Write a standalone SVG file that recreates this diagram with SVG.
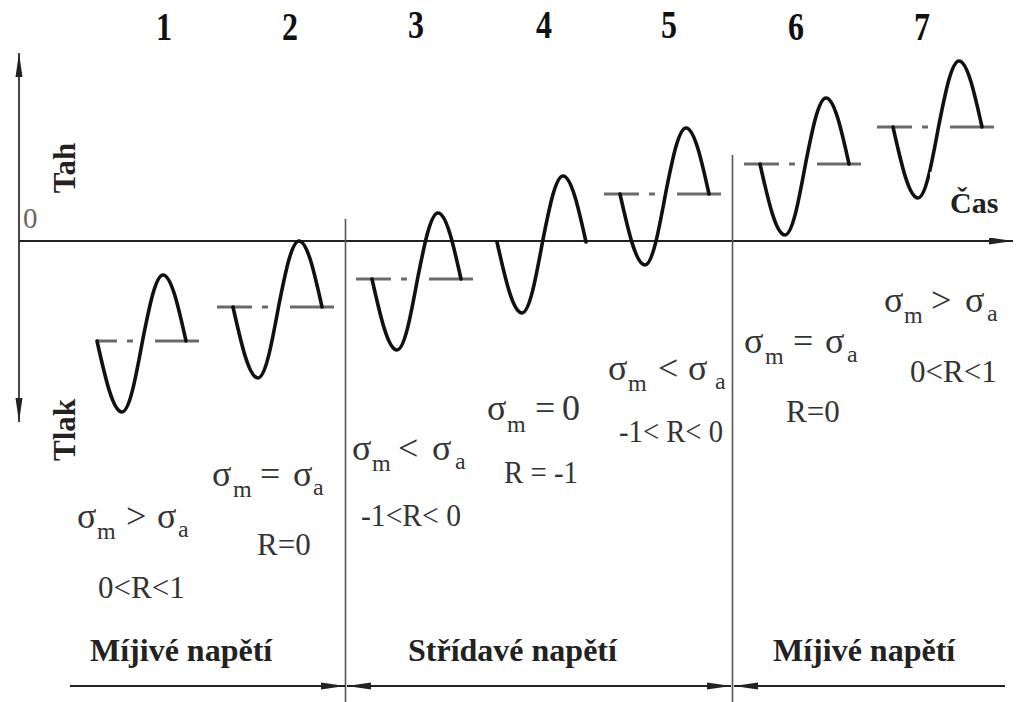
<svg xmlns="http://www.w3.org/2000/svg" width="1017" height="702" viewBox="0 0 1017 702">
<style>
.wave{fill:none;stroke:#111;stroke-width:3.6;stroke-linecap:round}
.mean{fill:none;stroke:#6a6a6a;stroke-width:2.8}
.axis{fill:none;stroke:#222;stroke-width:2}
.div{fill:none;stroke:#555;stroke-width:1.6}
text{font-family:'Liberation Serif','Times New Roman','DejaVu Serif',serif}
.num{font-weight:bold;font-size:40px;fill:#111}
.bold{font-weight:bold;fill:#222}
.lbl{font-size:36px;fill:#333}
.sub{font-size:24px}
.r{font-size:31px;fill:#333}
</style>
<defs>
<path id="w" d="M0,0 c8.15,36.37 15.95,71 25,71 c7.42,0 13.81,-34.63 20.5,-71 c6.69,-33.81 13.08,-66 20.5,-66 c8.32,0 15.5,32.19 23,66"/>
<path id="m" d="M-16,0 h35 M29,0 h6 M57,0 h44"/>
<marker id="ah" markerUnits="userSpaceOnUse" markerWidth="24" markerHeight="8" refX="24" refY="4" orient="auto-start-reverse" viewBox="0 0 24 8"><path d="M0,0.5 L24,4 L0,7.5 z" fill="#222"/></marker>
</defs>
<rect width="1017" height="702" fill="#fff"/>

<g id="axes">
<line class="axis" x1="19" y1="422" x2="19" y2="53" marker-start="url(#ah)" marker-end="url(#ah)" style="stroke:#333;stroke-width:1.8"/>
<line class="axis" x1="19" y1="241" x2="1013" y2="241" marker-end="url(#ah)"/>
<text class="bold" font-size="31" transform="translate(75,168) rotate(-90)" text-anchor="middle">Tah</text>
<text class="bold" font-size="31" transform="translate(75,430) rotate(-90)" text-anchor="middle">Tlak</text>
<text x="23" y="228" style="font-size:29px;fill:#666">0</text>
</g>

<g id="numbers">
<text class="num" text-anchor="middle" transform="translate(164,40) scale(0.8,1)">1</text>
<text class="num" text-anchor="middle" transform="translate(290,40) scale(0.8,1)">2</text>
<text class="num" text-anchor="middle" transform="translate(416,38) scale(0.8,1)">3</text>
<text class="num" text-anchor="middle" transform="translate(544,38) scale(0.8,1)">4</text>
<text class="num" text-anchor="middle" transform="translate(669,38) scale(0.8,1)">5</text>
<text class="num" text-anchor="middle" transform="translate(796,40) scale(0.8,1)">6</text>
<text class="num" text-anchor="middle" transform="translate(922,40) scale(0.8,1)">7</text>
</g>

<g id="wave1">
<path class="mean" d="M97,341 h20 M127,341 h6 M155,341 h44"/>
<use href="#w" x="97" y="341" class="wave"/>
</g>
<g id="wave2">
<use href="#m" x="233" y="307" class="mean"/>
<use href="#w" x="233" y="307" class="wave"/>
</g>
<g id="wave3">
<use href="#m" x="372" y="279" class="mean"/>
<use href="#w" x="372" y="279" class="wave"/>
</g>
<g id="wave4">
<use href="#w" x="497" y="242" class="wave"/>
</g>
<g id="wave5">
<use href="#m" x="620" y="194" class="mean"/>
<use href="#w" x="620" y="194" class="wave"/>
</g>
<g id="wave6">
<use href="#m" x="760" y="164" class="mean"/>
<use href="#w" x="760" y="164" class="wave"/>
</g>
<g id="wave7">
<use href="#m" x="893" y="127" class="mean"/>
<use href="#w" x="893" y="127" class="wave"/>
</g>

<g id="cas">
<rect x="930" y="172" width="87" height="66" fill="#fff"/>
<text class="bold" font-size="30" x="950" y="213">Čas</text>
</g>

<g id="labels">
<text class="lbl"><tspan x="77" y="528">σ</tspan><tspan class="sub" x="97" y="539">m</tspan><tspan x="126" y="528">&gt;</tspan><tspan x="157" y="528">σ</tspan><tspan class="sub" x="178" y="537">a</tspan></text>
<text class="r" x="98" y="598">0&lt;R&lt;1</text>

<text class="lbl"><tspan x="212" y="486">σ</tspan><tspan class="sub" x="233" y="497">m</tspan><tspan x="260" y="486">=</tspan><tspan x="293" y="486">σ</tspan><tspan class="sub" x="313" y="495">a</tspan></text>
<text class="r" x="257" y="555">R=0</text>

<text class="lbl"><tspan x="352" y="460">σ</tspan><tspan class="sub" x="372" y="471">m</tspan><tspan x="398" y="460">&lt;</tspan><tspan x="432" y="460">σ</tspan><tspan class="sub" x="455" y="469">a</tspan></text>
<text class="r" x="361" y="526" textLength="100" lengthAdjust="spacingAndGlyphs">-1&lt;R&lt; 0</text>

<text class="lbl"><tspan x="487" y="420">σ</tspan><tspan class="sub" x="507" y="432">m</tspan><tspan x="535" y="420">=</tspan><tspan x="562" y="420">0</tspan></text>
<text class="r" x="504" y="483" textLength="74" lengthAdjust="spacingAndGlyphs">R = -1</text>

<text class="lbl"><tspan x="608" y="380">σ</tspan><tspan class="sub" x="628" y="391">m</tspan><tspan x="658" y="380">&lt;</tspan><tspan x="688" y="380">σ</tspan><tspan class="sub" x="715" y="389">a</tspan></text>
<text class="r" x="619" y="442" textLength="104" lengthAdjust="spacingAndGlyphs">-1&lt; R&lt; 0</text>

<text class="lbl"><tspan x="744" y="353">σ</tspan><tspan class="sub" x="765" y="364">m</tspan><tspan x="793" y="353">=</tspan><tspan x="825" y="353">σ</tspan><tspan class="sub" x="847" y="362">a</tspan></text>
<text class="r" x="786" y="422">R=0</text>

<text class="lbl"><tspan x="884" y="312">σ</tspan><tspan class="sub" x="904" y="323">m</tspan><tspan x="931" y="312">&gt;</tspan><tspan x="965" y="312">σ</tspan><tspan class="sub" x="987" y="321">a</tspan></text>
<text class="r" x="910" y="382">0&lt;R&lt;1</text>

<text class="bold" font-size="32" x="90" y="661">Míjivé napětí</text>
<text class="bold" font-size="32" x="408" y="661">Střídavé napětí</text>
<text class="bold" font-size="32" x="773" y="661">Míjivé napětí</text>
</g>

<g id="connectors">
<line class="div" x1="345.5" y1="219" x2="345.5" y2="702"/>
<line class="div" x1="732.5" y1="155" x2="732.5" y2="702"/>
<line class="axis" x1="70" y1="686" x2="345" y2="686" marker-end="url(#ah)"/>
<line class="axis" x1="347" y1="686" x2="731" y2="686" marker-start="url(#ah)" marker-end="url(#ah)"/>
<line class="axis" x1="734" y1="686" x2="1005" y2="686" marker-start="url(#ah)"/>
</g>
</svg>
